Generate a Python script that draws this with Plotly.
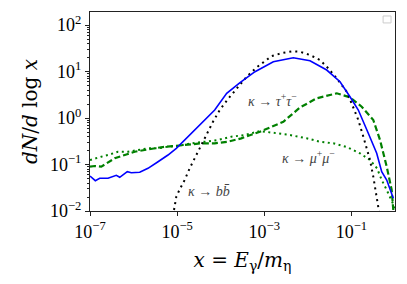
import numpy as np
import plotly.graph_objects as go

# ---- data (log10 of x and log10 of dN/dlogx) ----
blue_logx = [-7.0, -6.878, -6.777, -6.587, -6.396, -6.318, -6.144, -6.052, -5.859, -5.669,
             -5.439, -5.210, -5.019, -4.751, -4.446, -4.138, -3.863, -3.557, -3.213, -2.793,
             -2.334, -1.951, -1.567, -1.262, -1.033, -0.842, -0.613, -0.420, -0.305, -0.190, -0.039]
blue_logy = [-1.247, -1.348, -1.297, -1.297, -1.232, -1.275, -1.155, -1.176, -1.168, -1.082,
             -0.940, -0.796, -0.652, -0.402, -0.114, 0.172, 0.531, 0.763, 0.996, 1.211,
             1.297, 1.232, 1.032, 0.781, 0.458, 0.172, -0.329, -0.759, -1.155, -1.333, -1.727]

bb_logx = [-5.072, -5.019, -4.941, -4.827, -4.712, -4.597, -4.482, -4.331, -4.177, -4.023,
           -3.833, -3.596, -3.404, -3.174, -2.944, -2.830, -2.563, -2.371, -2.180, -1.951,
           -1.721, -1.531, -1.338, -1.108, -0.957, -0.842, -0.727, -0.574, -0.498, -0.420,
           -0.383, -0.360]
bb_logy = [-1.978, -1.692, -1.533, -1.333, -1.082, -0.867, -0.617, -0.366, -0.080, 0.172,
           0.409, 0.673, 0.888, 1.090, 1.247, 1.333, 1.404, 1.434, 1.426, 1.355,
           1.247, 1.069, 0.854, 0.566, 0.226, -0.043, -0.402, -0.903, -1.262, -1.692,
           -1.892, -2.05]

tau_logx = [-7.0, -6.892, -6.741, -6.626, -6.433, -6.204, -5.974, -5.745, -5.515, -5.286,
            -5.056, -4.751, -4.446, -4.138, -3.833, -3.527, -3.098, -2.563, -2.180, -1.797,
            -1.338, -1.033, -0.764, -0.498, -0.344, -0.190, -0.076, -0.039]
tau_logy = [-1.047, -1.032, -1.047, -0.974, -0.867, -0.796, -0.725, -0.688, -0.652, -0.617,
            -0.602, -0.581, -0.544, -0.544, -0.510, -0.437, -0.295, -0.080, 0.226, 0.424,
            0.531, 0.445, 0.243, -0.043, -0.473, -1.047, -1.548, -1.978]

mu_logx = [-7.0, -6.892, -6.741, -6.587, -6.357, -6.128, -5.898, -5.669, -5.439, -5.210,
           -4.980, -4.675, -4.367, -4.062, -3.757, -3.449, -3.098, -2.793, -2.410, -2.026,
           -1.721, -1.416, -1.108, -0.803, -0.574, -0.413, -0.305, -0.190, -0.076, 0.0]
mu_logy = [-0.903, -0.867, -0.832, -0.796, -0.725, -0.725, -0.688, -0.652, -0.652, -0.617,
           -0.602, -0.544, -0.510, -0.473, -0.402, -0.366, -0.280, -0.323, -0.366, -0.437,
           -0.510, -0.544, -0.624, -0.759, -0.903, -1.082, -1.333, -1.548, -1.763, -1.935]

x_tick_exps = [-7, -5, -3, -1]
y_tick_exps = [-2, -1, 0, 1, 2]

SERIF = "DejaVu Serif"
SERIF2 = "Liberation Serif"


def pw(e):
    return "10<sup>" + str(e).replace("-", "\u2212") + "</sup>"


def tx(a):
    return 10 ** np.array(a)


fig = go.Figure()
fig.add_trace(go.Scatter(x=tx(mu_logx), y=tx(mu_logy), mode="lines",
                         line=dict(color="green", width=2, dash="2px,3.5px")))
fig.add_trace(go.Scatter(x=tx(tau_logx), y=tx(tau_logy), mode="lines",
                         line=dict(color="green", width=2.2, dash="6px,3px")))
fig.add_trace(go.Scatter(x=tx(bb_logx), y=tx(bb_logy), mode="lines",
                         line=dict(color="black", width=2, dash="2px,4px")))
fig.add_trace(go.Scatter(x=tx(blue_logx), y=tx(blue_logy), mode="lines",
                         line=dict(color="blue", width=1.6)))

ann_font = dict(family=SERIF2, size=14, color="#444444")
fig.add_annotation(x=-2.823, y=0.387, xref="x", yref="y", showarrow=False, font=ann_font,
                   text="<i>κ</i> → <i>τ</i><sup>+</sup><i>τ</i><sup>−</sup>")
fig.add_annotation(x=-1.974, y=-0.839, xref="x", yref="y", showarrow=False, font=ann_font,
                   text="<i>κ</i> → <i>μ</i><sup>+</sup><i>μ</i><sup>−</sup>")
fig.add_annotation(x=-4.269, y=-1.591, xref="x", yref="y", showarrow=False, font=ann_font,
                   text="<i>κ</i> → <i>b</i><i>b\u0304</i>")

# empty legend box (top right)
fig.add_shape(type="rect", xref="paper", yref="paper", x0=0.961, x1=0.987, y0=0.945, y1=0.980,
              line=dict(color="#cccccc", width=1), fillcolor="white")

axis_common = dict(showgrid=False, zeroline=False, showline=True, mirror=True,
                   linecolor="#222222", linewidth=1, ticks="outside", ticklen=4,
                   tickcolor="#222222", tickfont=dict(family=SERIF2, size=18, color="black"))

fig.update_xaxes(type="log", range=[-7, 0],
                 tickvals=[10.0 ** e for e in x_tick_exps],
                 ticktext=[pw(e) for e in x_tick_exps],
                 title=dict(text="<i>x</i> = <i>E</i><sub>γ</sub>/<i>m</i><sub>η</sub>",
                            font=dict(family=SERIF, size=20, color="black"), standoff=12),
                 **axis_common)
fig.update_yaxes(type="log", range=[-2, 2.28],
                 tickvals=[10.0 ** e for e in y_tick_exps],
                 ticktext=[pw(e) for e in y_tick_exps],
                 minor=dict(ticks="outside", ticklen=2, tickcolor="#222222", dtick="D1", showgrid=False),
                 title=dict(text="<i>dN</i>/<i>d</i> log <i>x</i>",
                            font=dict(family=SERIF, size=20, color="black"), standoff=6),
                 **axis_common)

# page body adds an 8px margin: compensate so the plot area matches the reference
fig.update_layout(width=399, height=276, margin=dict(l=82, r=12, t=4, b=73),
                  plot_bgcolor="white", paper_bgcolor="white", showlegend=False)

fig.write_html("out.html")
